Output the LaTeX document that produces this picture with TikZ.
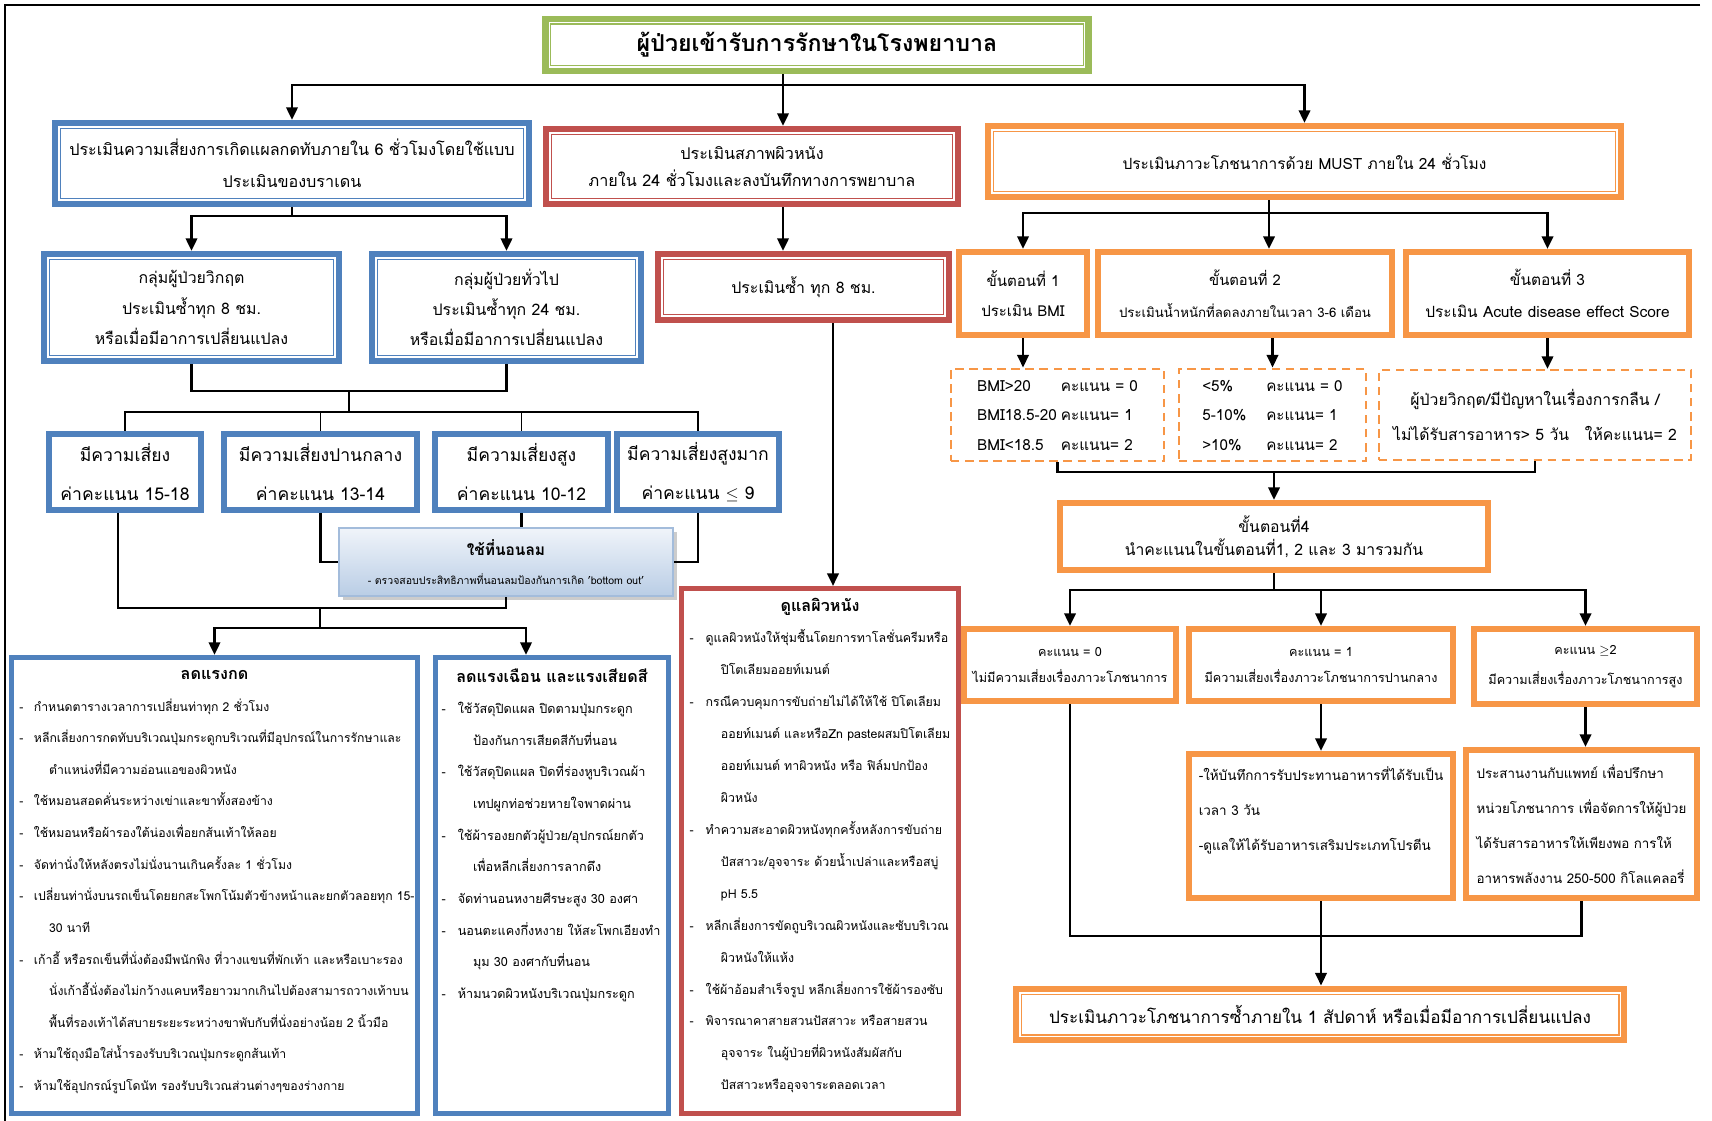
\documentclass[tikz,border=0pt]{standalone}
\usepackage{fontspec}
\setmainfont{Loma}[Script=Thai]
\usepackage{xcolor}
\usepackage{tikz}
\usetikzlibrary{positioning,calc,arrows.meta,shadows}

\definecolor{grn}{HTML}{9BBB59}
\definecolor{blu}{HTML}{4F81BD}
\definecolor{rd}{HTML}{C0504D}
\definecolor{org}{HTML}{F79646}
\definecolor{airtop}{HTML}{F0F4FA}
\definecolor{airbot}{HTML}{B9CDE5}
\definecolor{airline}{HTML}{A3BCDB}

\newcommand{\fsz}[2]{\fontsize{#1}{#2}\selectfont}

\tikzset{
  wh/.style 2 args={minimum width=#1*0.25mm, minimum height=#2*0.25mm},
  frm/.style={draw=#1, line width=4.3pt, fill=white, align=center, inner sep=1pt},
  dsh/.style={draw=org, line width=1.5pt, dash pattern=on 6pt off 4pt, fill=white, align=left, inner sep=1pt},
  link/.style={line width=2pt},
  thinlink/.style={line width=1.4pt},
  arr/.style={link, -{Triangle[length=9pt,width=8pt]}},
}

\begin{document}
\begin{tikzpicture}[x=0.25mm, y=-0.25mm]
    \useasboundingbox (0,0) rectangle (1712,1121);
    % page frame
    \draw[line width=2pt] (1700,5) -- (5,5) -- (5,1121);

    % Admission
    \node[frm=grn, line width=4.8pt, wh={543}{52}, font=\fsz{16.5}{18}\bfseries] (title) at (817,45) {ผู้ป่วยเข้ารับการรักษาในโรงพยาบาล};

    % Three assessments
    \node[frm=blu, wh={474}{81}, font=\fsz{11.5}{22.5}] (brad) at (292,163.5) {ประเมินความเสี่ยงการเกิดแผลกดทับภายใน 6 ชั่วโมงโดยใช้แบบ\\ประเมินของบราเดน};
    \node[frm=rd, wh={412}{75}, font=\fsz{11.5}{19.5}] (skin) at (752,166.5) {ประเมินสภาพผิวหนัง\\ภายใน 24 ชั่วโมงและลงบันทึกทางการพยาบาล};
    \node[frm=org, wh={633}{71}, font=\fsz{11}{14}] (must) at (1304.5,161.5) {ประเมินภาวะโภชนาการด้วย MUST ภายใน 24 ชั่วโมง};

    % Braden groups
    \node[frm=blu, wh={295}{107}, font=\fsz{11.3}{21.5}] (crit) at (191.5,307.5) {กลุ่มผู้ป่วยวิกฤต\\ประเมินซ้ำทุก 8 ชม.\\หรือเมื่อมีอาการเปลี่ยนแปลง};
    \node[frm=blu, wh={269}{107}, font=\fsz{11.3}{21.5}] (gen) at (506.5,307.5) {กลุ่มผู้ป่วยทั่วไป\\ประเมินซ้ำทุก 24 ชม.\\หรือเมื่อมีอาการเปลี่ยนแปลง};
    \node[frm=rd, wh={291}{66}, font=\fsz{11.3}{14}] (skin8) at (803.5,287) {ประเมินซ้ำ ทุก 8 ชม.};

    % Risk levels
    \node[frm=blu, line width=4pt, wh={152}{76}, font=\fsz{12.5}{28}] (r1) at (125,472) {มีความเสี่ยง\\ค่าคะแนน 15-18};
    \node[frm=blu, line width=4pt, wh={193}{76}, font=\fsz{12.5}{28}] (r2) at (320.5,472) {มีความเสี่ยงปานกลาง\\ค่าคะแนน 13-14};
    \node[frm=blu, line width=4pt, wh={173}{76}, font=\fsz{12.5}{28}] (r3) at (521.5,472) {มีความเสี่ยงสูง\\ค่าคะแนน 10-12};
    \node[frm=blu, line width=4pt, wh={162}{76}, font=\fsz{12.5}{28}] (r4) at (698,472) {มีความเสี่ยงสูงมาก\\ค่าคะแนน $\le$ 9};

    \node[draw=airline, line width=1pt, top color=airtop, bottom color=airbot,
          drop shadow={shadow xshift=3pt, shadow yshift=-3pt, fill=black!40},
          wh={334}{68}, align=center, font=\fsz{11}{21}] (air) at (506,562)
          {\textbf{ใช้ที่นอนลม}\\{\fsz{7.5}{10}- ตรวจสอบประสิทธิภาพที่นอนลมป้องกันการเกิด 'bottom out'}};

    % Care lists
    \node[frm=blu, line width=3.6pt, inner sep=2mm, font=\fsz{8.7}{22.5}] (press) at (214.5,885.5) {\parbox[c][110mm][t]{97.5mm}{%
      \vspace*{1.2mm}\centering{\fsz{11.5}{22.5}\textbf{ลดแรงกด}}\par\raggedright
      \begin{tabular}[t]{@{}l@{\hspace{2.6mm}}l@{}}
      - & กำหนดตารางเวลาการเปลี่ยนท่าทุก 2 ชั่วโมง\\
      - & หลีกเลี่ยงการกดทับบริเวณปุ่มกระดูกบริเวณที่มีอุปกรณ์ในการรักษาและ\\
        & \hspace*{3.8mm}ตำแหน่งที่มีความอ่อนแอของผิวหนัง\\
      - & ใช้หมอนสอดคั่นระหว่างเข่าและขาทั้งสองข้าง\\
      - & ใช้หมอนหรือผ้ารองใต้น่องเพื่อยกส้นเท้าให้ลอย\\
      - & จัดท่านั่งให้หลังตรงไม่นั่งนานเกินครั้งละ 1 ชั่วโมง\\
      - & เปลี่ยนท่านั่งบนรถเข็นโดยยกสะโพกโน้มตัวข้างหน้าและยกตัวลอยทุก 15-\\
        & \hspace*{3.8mm}30 นาที\\
      - & เก้าอี้ หรือรถเข็นที่นั่งต้องมีพนักพิง ที่วางแขนที่พักเท้า และหรือเบาะรอง\\
        & \hspace*{3.8mm}นั่งเก้าอี้นั่งต้องไม่กว้างแคบหรือยาวมากเกินไปต้องสามารถวางเท้าบน\\
        & \hspace*{3.8mm}พื้นที่รองเท้าได้สบายระยะระหว่างขาพับกับที่นั่งอย่างน้อย 2 นิ้วมือ\\
      - & ห้ามใช้ถุงมือใส่น้ำรองรับบริเวณปุ่มกระดูกส้นเท้า\\
      - & ห้ามใช้อุปกรณ์รูปโดนัท รองรับบริเวณส่วนต่างๆของร่างกาย
      \end{tabular}}};
    \node[frm=blu, line width=3.6pt, inner sep=1.5mm, font=\fsz{9}{22.5}] (shear) at (552,885.5) {\parbox[c][111mm][t]{55.2mm}{%
      \vspace*{1.2mm}\centering{\fsz{11.5}{22.5}\textbf{ลดแรงเฉือน และแรงเสียดสี}}\par\raggedright
      \begin{tabular}[t]{@{}l@{\hspace{3mm}}l@{}}
      - & ใช้วัสดุปิดแผล ปิดตามปุ่มกระดูก\\
        & \hspace*{3.8mm}ป้องกันการเสียดสีกับที่นอน\\
      - & ใช้วัสดุปิดแผล ปิดที่ร่องหูบริเวณผ้า\\
        & \hspace*{3.8mm}เทปผูกท่อช่วยหายใจพาดผ่าน\\
      - & ใช้ผ้ารองยกตัวผู้ป่วย/อุปกรณ์ยกตัว\\
        & \hspace*{3.8mm}เพื่อหลีกเลี่ยงการลากดึง\\
      - & จัดท่านอนหงายศีรษะสูง 30 องศา\\
      - & นอนตะแคงกึ่งหงาย ให้สะโพกเอียงทำ\\
        & \hspace*{3.8mm}มุม 30 องศากับที่นอน\\
      - & ห้ามนวดผิวหนังบริเวณปุ่มกระดูก
      \end{tabular}}};
    \node[frm=rd, line width=3.6pt, inner sep=2mm, font=\fsz{8.8}{22.7}] (care) at (820,851) {\parbox[c][127.2mm][t]{65.2mm}{%
      \vspace*{0.3mm}\centering{\fsz{11.5}{22.7}\textbf{ดูแลผิวหนัง}}\par\raggedright
      \begin{tabular}[t]{@{}l@{\hspace{3mm}}l@{}}
      - & ดูแลผิวหนังให้ชุ่มชื้นโดยการทาโลชั่นครีมหรือ\\
        & \hspace*{3.8mm}ปิโตเลียมออยท์เมนต์\\
      - & กรณีควบคุมการขับถ่ายไม่ได้ให้ใช้ ปิโตเลียม\\
        & \hspace*{3.8mm}ออยท์เมนต์ และหรือZn pasteผสมปิโตเลียม\\
        & \hspace*{3.8mm}ออยท์เมนต์ ทาผิวหนัง หรือ ฟิล์มปกป้อง\\
        & \hspace*{3.8mm}ผิวหนัง\\
      - & ทำความสะอาดผิวหนังทุกครั้งหลังการขับถ่าย\\
        & \hspace*{3.8mm}ปัสสาวะ/อุจจาระ ด้วยน้ำเปล่าและหรือสบู่\\
        & \hspace*{3.8mm}pH 5.5\\
      - & หลีกเลี่ยงการขัดถูบริเวณผิวหนังและซับบริเวณ\\
        & \hspace*{3.8mm}ผิวหนังให้แห้ง\\
      - & ใช้ผ้าอ้อมสำเร็จรูป หลีกเลี่ยงการใช้ผ้ารองซับ\\
      - & พิจารณาคาสายสวนปัสสาวะ หรือสายสวน\\
        & \hspace*{3.8mm}อุจจาระ ในผู้ป่วยที่ผิวหนังสัมผัสกับ\\
        & \hspace*{3.8mm}ปัสสาวะหรืออุจจาระตลอดเวลา
      \end{tabular}}};

    % MUST steps
    \node[frm=org, wh={128}{83}, font=\fsz{10.7}{21}] (st1) at (1023,293.5) {ขั้นตอนที่ 1\\ประเมิน BMI};
    \node[frm=org, wh={294}{83}, font=\fsz{10.5}{23}] (st2) at (1245,293.5) {ขั้นตอนที่ 2\\{\fsz{9.4}{23}ประเมินน้ำหนักที่ลดลงภายในเวลา 3-6 เดือน}};
    \node[frm=org, wh={283}{83}, font=\fsz{11}{23}] (st3) at (1547.5,293.5) {ขั้นตอนที่ 3\\ประเมิน Acute disease effect Score};

    \node[dsh, wh={213}{90}, font=\fsz{10.9}{21.3}] (bmi) at (1057.5,415) {\begin{tabular}{@{}l@{\hspace{1mm}}l@{}}BMI>20 & คะแนน = 0\\BMI18.5-20 & คะแนน= 1\\BMI<18.5 & คะแนน= 2\end{tabular}};
    \node[dsh, wh={187}{90}, font=\fsz{10.8}{21.3}] (wt) at (1272.5,415) {\begin{tabular}{@{}l@{\hspace{5mm}}l@{}}<5\% & คะแนน = 0\\5-10\% & คะแนน= 1\\>10\% & คะแนน= 2\end{tabular}};
    \node[dsh, wh={312}{90}, align=center, font=\fsz{11.2}{25}] (acute) at (1535,415) {ผู้ป่วยวิกฤต/มีปัญหาในเรื่องการกลืน /\\ไม่ได้รับสารอาหาร> 5 วัน\quad ให้คะแนน= 2};

    \node[frm=org, wh={428}{67}, font=\fsz{11.2}{16.5}] (sum) at (1274,536.5) {ขั้นตอนที่4\\นำคะแนนในขั้นตอนที่1, 2 และ 3 มารวมกัน};

    % Scores and actions
    \node[frm=org, wh={212}{72}, font=\fsz{9}{19}] (sc0) at (1070,665) {คะแนน = 0\\ไม่มีความเสี่ยงเรื่องภาวะโภชนาการ};
    \node[frm=org, wh={264}{72}, font=\fsz{9}{19}] (sc1) at (1321,665) {คะแนน = 1\\มีความเสี่ยงเรื่องภาวะโภชนาการปานกลาง};
    \node[frm=org, wh={223}{75}, font=\fsz{9}{21}] (sc2) at (1585.5,666.5) {คะแนน $\geq$2\\มีความเสี่ยงเรื่องภาวะโภชนาการสูง};
    \node[frm=org, wh={264}{144}, align=left, font=\fsz{9.6}{25}] (plan1) at (1321,826) {-ให้บันทึกการรับประทานอาหารที่ได้รับเป็น\\เวลา 3 วัน\\-ดูแลให้ได้รับอาหารเสริมประเภทโปรตีน\\\mbox{}};
    \node[frm=org, wh={231}{148}, align=left, font=\fsz{9.5}{25}] (plan2) at (1581.5,824) {ประสานงานกับแพทย์ เพื่อปรึกษา\\หน่วยโภชนาการ เพื่อจัดการให้ผู้ป่วย\\ได้รับสารอาหารให้เพียงพอ การให้\\อาหารพลังงาน 250-500 กิโลแคลอรี่};
    \node[frm=org, line width=4.8pt, wh={608}{51}, font=\fsz{12.2}{14}] (redo) at (1320,1014.5) {ประเมินภาวะโภชนาการซ้ำภายใน 1 สัปดาห์ หรือเมื่อมีอาการเปลี่ยนแปลง};

    % inner rule of the double frames
    \foreach \n/\c in {title/grn,brad/blu,crit/blu,gen/blu,skin/rd,skin8/rd,must/org,redo/org}
      \draw[\c, line width=0.8pt] ([shift={(6pt,6pt)}]\n.south west) rectangle ([shift={(-6pt,-6pt)}]\n.north east);

    % Top split
    \coordinate (tap) at (783,85);
    \draw[link] (title.south -| tap) -- (tap);
    \draw[arr] (tap) -| (brad.north);
    \draw[arr] (tap) -- (skin.north -| tap);
    \draw[arr] (tap) -| (must.north);

    % Braden branch
    \coordinate (bsplit) at (292,216);
    \draw[link] (brad.south) -- (bsplit);
    \draw[arr] (bsplit) -| (crit.north);
    \draw[arr] (bsplit) -| (gen.north);
    \coordinate (gjoin) at (349,391);
    \coordinate (rsplit) at (349,412);
    \draw[link] (crit.south) |- (gjoin) -| (gen.south);
    \draw[link] (gjoin) -- (rsplit);
    \foreach \r in {r1,r2,r3,r4}
      \draw[thinlink] (rsplit) -| (\r.north);
    \draw[link] (r2.south) |- (air.west);
    \draw[link] (r3.south) -- (r3.south |- air.north);
    \draw[link] (r4.south) |- (air.east);
    \coordinate (ljoin) at (320,608);
    \coordinate (lsplit) at (320,628);
    \draw[link] ([xshift=-1.75mm]r1.south) |- (ljoin) -| (air.south);
    \draw[link] (ljoin) -- (lsplit);
    \draw[arr] (lsplit) -| (press.north);
    \draw[arr] (lsplit) -| ([xshift=-6.5mm]shear.north);

    % Skin branch
    \coordinate (sdrop) at (833,0);
    \draw[arr] (skin.south -| tap) -- (skin8.north -| tap);
    \draw[arr] (skin8.south -| sdrop) -- (care.north -| sdrop);

    % MUST branch
    \coordinate (msplit) at (1269,213);
    \draw[link] (must.south -| msplit) -- (msplit);
    \draw[arr] (msplit) -| (st1.north);
    \draw[arr] (msplit) -- (st2.north -| msplit);
    \draw[arr] (msplit) -| (st3.north);
    \draw[arr] (st1.south) -- (st1.south |- bmi.north);
    \draw[arr] (st2.south -| wt.north) -- (wt.north);
    \draw[arr] (st3.south) -- (st3.south |- acute.north);
    \coordinate (djoin) at (1274,472);
    \draw[link] (bmi.south) |- (djoin) -| (acute.south);
    \draw[arr] (djoin) -- (sum.north);
    \coordinate (psplit) at (1274,590);
    \draw[link] (sum.south) -- (psplit);
    \draw[arr] (psplit) -| (sc0.north);
    \draw[arr] (psplit) -| (sc1.north);
    \draw[arr] (psplit) -| (sc2.north);
    \draw[arr] (sc1.south) -- (plan1.north);
    \draw[arr] (sc2.south) -- (sc2.south |- plan2.north);
    \coordinate (rjoin) at (1321,936);
    \draw[link] (sc0.south) |- (rjoin);
    \draw[link] (plan2.south) |- (rjoin);
    \draw[arr] (plan1.south) -- (plan1.south |- redo.north);
\end{tikzpicture}
\end{document}
